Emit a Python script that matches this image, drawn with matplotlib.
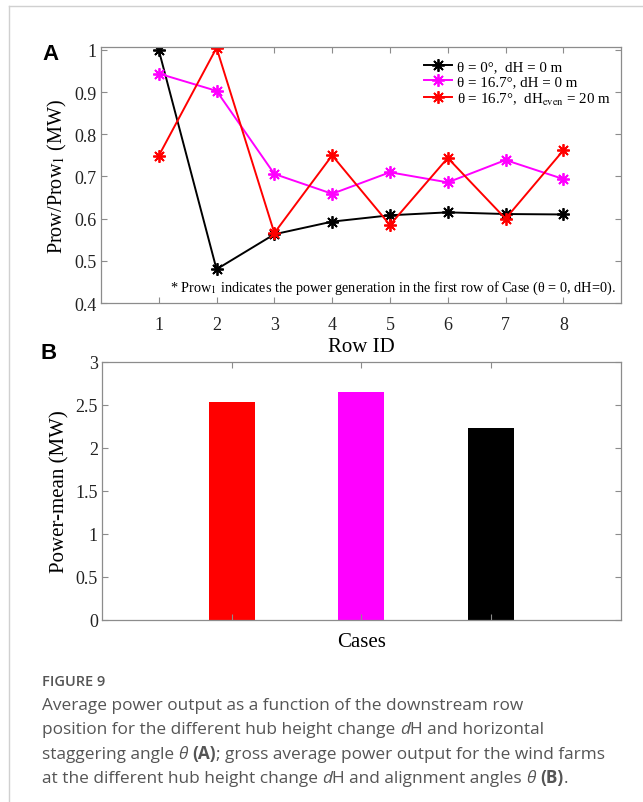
import matplotlib
matplotlib.use("Agg")
import matplotlib.pyplot as plt
from matplotlib.lines import Line2D
from matplotlib.text import Annotation

plt.rcParams['font.family'] = ['Liberation Serif', 'DejaVu Serif']
plt.rcParams['mathtext.fontset'] = 'stix'

# panel A data
row_id = [1, 2, 3, 4, 5, 6, 7, 8]
prow_base = [1.0, 0.48, 0.563, 0.593, 0.608, 0.615, 0.611, 0.610]
prow_stag = [0.944, 0.903, 0.706, 0.659, 0.710, 0.686, 0.739, 0.694]
prow_stag_dh = [0.749, 1.005, 0.566, 0.750, 0.585, 0.744, 0.600, 0.762]
labels_a = ['θ = 0°,  dH = 0 m',
            'θ = 16.7°, dH = 0 m',
            r'θ = 16.7°,  dH$_{\mathrm{even}}$ = 20 m']
colors_a = ['black', '#ff00ff', 'red']

# panel B data
case_pos = [1, 2, 3]
power_mean = [2.53, 2.655, 2.233]
colors_b = ['red', '#ff00ff', 'black']

spine_c = '#8c8c8c'

fig = plt.figure(figsize=(6.43, 8.03), dpi=100)

# page border lines
fig.add_artist(Line2D([9 / 643, 9 / 643], [0, 1 - 7 / 803], transform=fig.transFigure, color='#d0d0d0', lw=1))
fig.add_artist(Line2D([9 / 643, 1], [1 - 7 / 803, 1 - 7 / 803], transform=fig.transFigure, color='#d0d0d0', lw=1))


def style_axes(ax):
    for s in ax.spines.values():
        s.set_color(spine_c)
        s.set_linewidth(0.9)
    ax.tick_params(direction='in', top=True, right=True, length=4, color=spine_c,
                   labelsize=13, labelcolor='#222222')
    ax.tick_params(axis='y', pad=3)
    ax.tick_params(axis='x', pad=9)


# ---- panel A
ax1 = fig.add_axes([0.157, 0.6214, 0.809, 0.3188])
series = [prow_base, prow_stag, prow_stag_dh]
for vals, col, lab in zip(series, colors_a, labels_a):
    ax1.plot(row_id, vals, color=col, lw=1.4, marker=(8, 2, 0), markersize=9,
             markeredgewidth=1.3, label=lab)
ax1.set_xlim(0, 9)
ax1.set_ylim(0.4, 1.007)
ax1.set_xticks(row_id)
ax1.set_yticks([0.4, 0.5, 0.6, 0.7, 0.8, 0.9, 1.0])
ax1.set_yticklabels(['0.4', '0.5', '0.6', '0.7', '0.8', '0.9', '1'])
style_axes(ax1)
ax1.set_xlabel('Row ID', fontsize=15, labelpad=3)
ax1.set_ylabel(r'Prow/Prow$_1$ (MW)', fontsize=14.5, labelpad=4)
ax1.legend(loc='upper right', bbox_to_anchor=(0.997, 0.985), frameon=False, fontsize=10.8,
           handlelength=1.9, handletextpad=0.3, labelspacing=0.12, borderaxespad=0.2)
ax1.text(0.99, 0.0625, r'* Prow$_1$ indicates the power generation in the first row of Case (θ = 0, dH=0).',
         transform=ax1.transAxes, ha='right', va='center', fontsize=10.3)
fig.text(42 / 643, 1 - 54 / 803, 'A', family='Liberation Sans', weight='bold', fontsize=16, va='center')

# ---- panel B
ax2 = fig.add_axes([0.1586, 0.2267, 0.807, 0.3213])
ax2.bar(case_pos, power_mean, width=0.355, color=colors_b)
ax2.set_xlim(0, 4)
ax2.set_ylim(0, 3)
ax2.set_xticks(case_pos)
ax2.set_xticklabels([])
ax2.set_yticks([0, 0.5, 1, 1.5, 2, 2.5, 3])
ax2.set_yticklabels(['0', '0.5', '1', '1.5', '2', '2.5', '3'])
style_axes(ax2)
ax2.set_xlabel('Cases', fontsize=15, labelpad=0)
ax2.set_ylabel('Power-mean (MW)', fontsize=15, labelpad=4)
fig.text(40 / 643, 1 - 354 / 803, 'B', family='Liberation Sans', weight='bold', fontsize=16, va='center')

# ---- caption
cap_c = '#555555'
fig.text(42 / 643, 1 - 682 / 803, 'FIGURE 9', family='Open Sans', weight='semibold',
         fontsize=10.5, color=cap_c, va='center')

cap_lines = [
    [('Average power output as a function of the downstream row', 'normal', 'normal')],
    [('position for the different hub height change ', 'normal', 'normal'),
     ('d', 'italic', 'normal'),
     ('H and horizontal', 'normal', 'normal')],
    [('staggering angle ', 'normal', 'normal'),
     ('θ', 'italic', 'normal'),
     (' ', 'normal', 'normal'),
     ('(A)', 'normal', 'bold'),
     ('; gross average power output for the wind farms', 'normal', 'normal')],
    [('at the different hub height change ', 'normal', 'normal'),
     ('d', 'italic', 'normal'),
     ('H and alignment angles ', 'normal', 'normal'),
     ('θ', 'italic', 'normal'),
     (' ', 'normal', 'normal'),
     ('(B)', 'normal', 'bold'),
     ('.', 'normal', 'normal')],
]
line_y = [707, 731.5, 756, 780.5]
for parts, yy in zip(cap_lines, line_y):
    last = None
    for txt, sty, wt in parts:
        kw = dict(family='Open Sans', fontsize=12.4, color=cap_c, style=sty, weight=wt)
        if last is None:
            last = fig.text(42 / 643, 1 - (yy + 7) / 803, txt, va='bottom', **kw)
        else:
            last = fig.add_artist(Annotation(txt, xy=(1, 0), xycoords=last,
                                             va='bottom', ha='left', **kw))

fig.savefig('out.png', dpi=100)
